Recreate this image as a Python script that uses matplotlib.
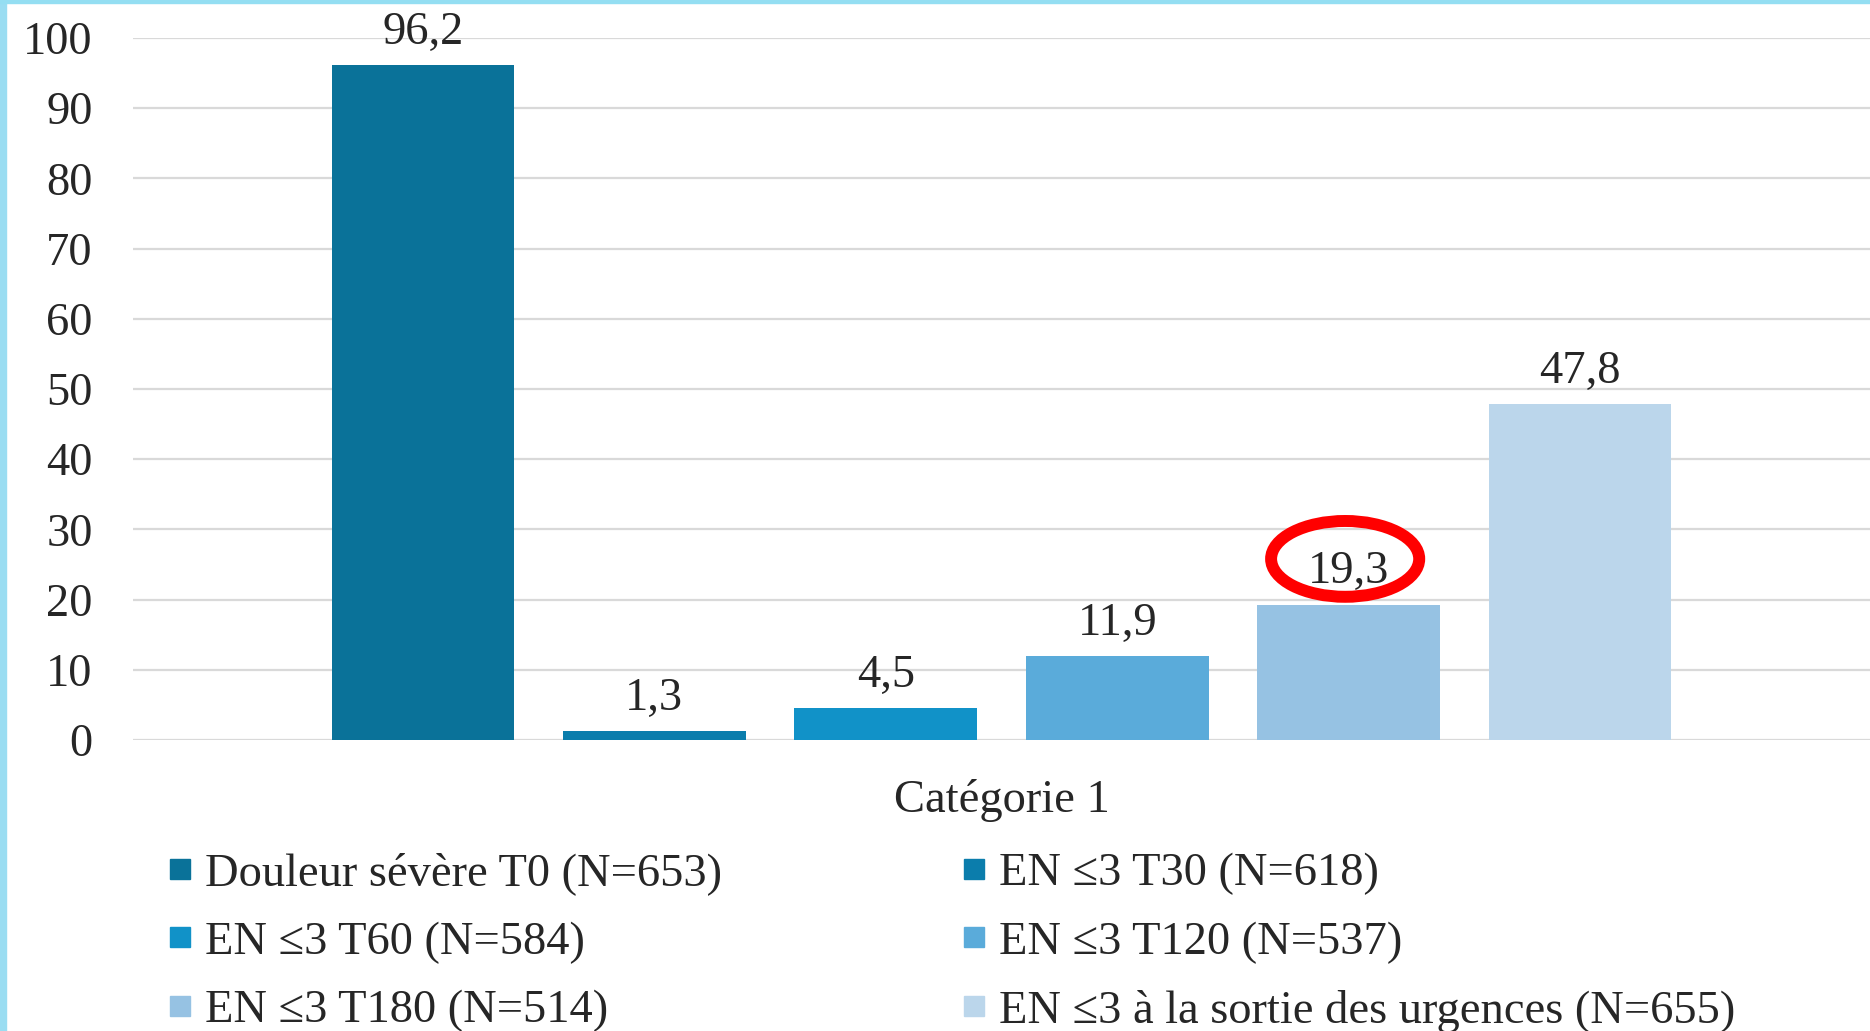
import matplotlib.pyplot as plt
from matplotlib.lines import Line2D
from matplotlib.patches import Ellipse, Rectangle

# data
series = ['Douleur sévère T0 (N=653)', 'EN \u22643 T30 (N=618)', 'EN \u22643 T60 (N=584)',
          'EN \u22643 T120 (N=537)', 'EN \u22643 T180 (N=514)',
          'EN \u22643 à la sortie des urgences (N=655)']
values = [96.2, 1.3, 4.5, 11.9, 19.3, 47.8]
category = 'Catégorie 1'
colors = ['#0A7299', '#0B7DAC', '#1192C8', '#5AABDA', '#96C2E3', '#BBD6EB']
highlight = 4  # circled label

plt.rcParams['font.family'] = ['Liberation Serif', 'DejaVu Serif']
fs = 33.5

fig = plt.figure(figsize=(18.7, 10.31), dpi=100)
ax = fig.add_axes([133 / 1870, 1 - 740 / 1031, 1 - 133 / 1870, (740 - 38) / 1031])

xs = list(range(len(values)))
bars = ax.bar(xs, values, width=0.79, color=colors, zorder=2)

for x, v in zip(xs, values):
    ax.annotate(f'{v:.1f}'.replace('.', ','), xy=(x, v), xytext=(0, 8),
                textcoords='offset points', ha='center', va='bottom',
                fontsize=fs, color='#262626')

# red circle around the T180 label
ax.add_patch(Ellipse((highlight - 0.015, values[highlight] + 6.5), 0.64, 10.8,
                     fill=False, edgecolor='#FF0000', linewidth=8.6, zorder=3,
                     clip_on=False))

ax.set_ylim(0, 100)
ax.set_xlim(-1.253, 6.253)
ax.set_yticks(range(0, 101, 10))
ax.set_xticks([2.5])
ax.set_xticklabels([category])
ax.tick_params(axis='both', length=0, labelsize=fs, colors='#262626')
ax.tick_params(axis='y', pad=29)
ax.tick_params(axis='x', pad=28)
ax.yaxis.grid(True, color='#D9D9D9', linewidth=1.6, zorder=0)
ax.set_axisbelow(True)
for s in ax.spines.values():
    s.set_visible(False)

# legend, row-major order like the original
order = [0, 2, 4, 1, 3, 5]
handles = [Line2D([], [], marker='s', linestyle='none', markersize=14,
                  markerfacecolor=colors[i], markeredgecolor=colors[i]) for i in order]
fig.legend(handles, [series[i] for i in order], ncol=2, loc='upper left',
           bbox_to_anchor=(170 / 1870, 1 - 852 / 1031), frameon=False,
           fontsize=fs, handlelength=0.45, handletextpad=0.3,
           columnspacing=5.2, labelspacing=0.56, borderpad=0, borderaxespad=0,
           labelcolor='#262626')

# light blue frame on top and left
fig.patches.append(Rectangle((0, 0), 6 / 1870, 1, transform=fig.transFigure,
                             color='#9ADDF2', zorder=10))
fig.patches.append(Rectangle((0, 1 - 3 / 1031), 1, 3 / 1031, transform=fig.transFigure,
                             color='#94DEF2', zorder=10))

fig.savefig('out.png', dpi=100, facecolor='white')
